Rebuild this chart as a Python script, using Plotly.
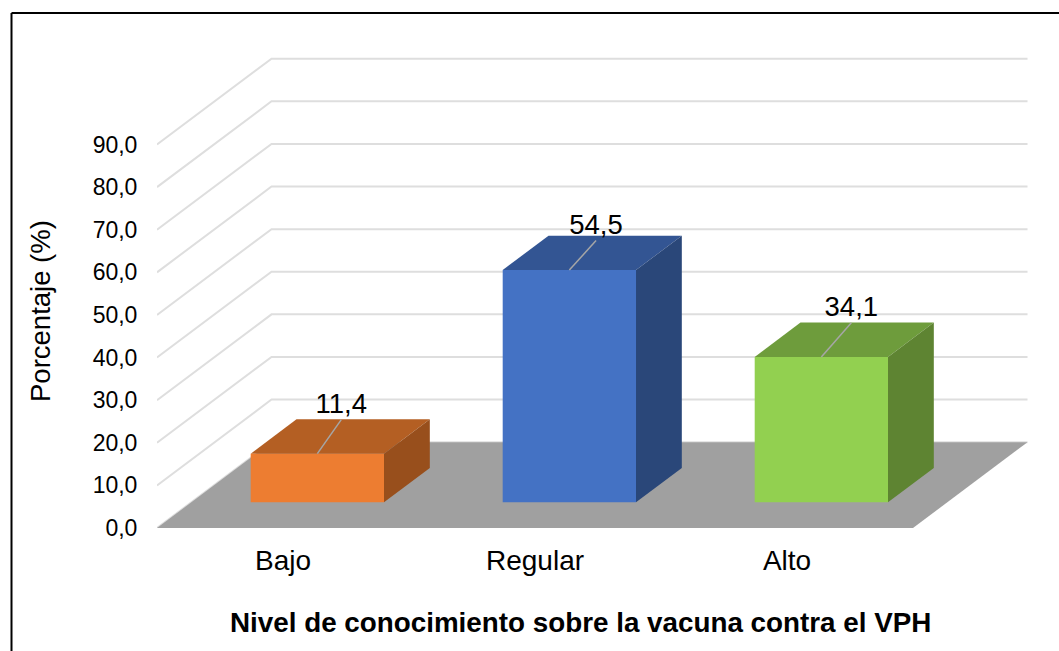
import plotly.graph_objects as go

# ---- data ----
categories = ["Bajo", "Regular", "Alto"]
values = [11.4, 54.5, 34.1]
value_labels = ["11,4", "54,5", "34,1"]
tick_values = [0, 10, 20, 30, 40, 50, 60, 70, 80, 90]
tick_labels = ["0,0", "10,0", "20,0", "30,0", "40,0", "50,0", "60,0", "70,0", "80,0", "90,0"]
x_title = "Nivel de conocimiento sobre la vacuna contra el VPH"
y_title = "Porcentaje (%)"

# ---- style ----
W, H = 1059, 651
ML, MR, MT, MB = 157, 19, 38.4, 123.3
X_RANGE = (W - ML - MR) / 252
Y_RANGE = (H - MT - MB) / 4.255
DEPTH_X, DEPTH_V = 0.4544, 20.14       # oblique projection of the floor's depth
BAR_W = 0.529
BAR_D0, BAR_D1 = 0.30, 0.70
lead_x = [0.095, 0.106, 0.119]
lead_v = [8.0, 6.9, 8.0]
FONT = "Liberation Sans"
front_colors = ["#ED7D31", "#4472C4", "#92D050"]
top_colors = ["#B45F23", "#335593", "#6E9C3C"]
side_colors = ["#984F1C", "#2A4779", "#5E8432"]
GRID = "#DEDEDE"
FLOOR = "#A0A0A0"
plot_w, plot_h = W - ML - MR, H - MT - MB


def proj(x, d, v):
    return x + DEPTH_X * d, v + DEPTH_V * d


def poly(points, color):
    xs, ys = zip(*[proj(*p) for p in points])
    return go.Scatter(x=list(xs) + [xs[0]], y=list(ys) + [ys[0]], mode="none", fill="toself",
                      fillcolor=color, hoverinfo="skip", showlegend=False)


def page_x(px):
    return (px - ML) / plot_w


def page_y(py):
    return (H - MB - py) / plot_h


fig = go.Figure()

# back wall and side gridlines
for t in tick_values:
    xs, ys = zip(proj(0, 0, t), proj(0, 1, t), proj(len(categories), 1, t))
    fig.add_trace(go.Scatter(x=xs, y=ys, mode="lines", line=dict(color=GRID, width=2),
                             hoverinfo="skip", showlegend=False))

# floor
n = len(categories)
fig.add_trace(poly([(0, 0, 0), (n, 0, 0), (n, 1, 0), (0, 1, 0)], FLOOR))

# bars
for i, v in enumerate(values):
    x0, x1 = i + 0.5 - BAR_W / 2, i + 0.5 + BAR_W / 2
    fig.add_trace(poly([(x0, BAR_D0, v), (x1, BAR_D0, v), (x1, BAR_D1, v), (x0, BAR_D1, v)], top_colors[i]))
    fig.add_trace(poly([(x1, BAR_D0, 0), (x1, BAR_D1, 0), (x1, BAR_D1, v), (x1, BAR_D0, v)], side_colors[i]))
    fig.add_trace(poly([(x0, BAR_D0, 0), (x1, BAR_D0, 0), (x1, BAR_D0, v), (x0, BAR_D0, v)], front_colors[i]))
    # leader line and value label
    fx, fy = proj(i + 0.5, BAR_D0, v)
    fig.add_trace(go.Scatter(x=[fx, fx + lead_x[i]], y=[fy, fy + lead_v[i]], mode="lines",
                             line=dict(color="#A6A6A6", width=1.5), hoverinfo="skip", showlegend=False))
    fig.add_trace(go.Scatter(x=[fx + lead_x[i]], y=[fy + lead_v[i]], mode="text", text=[value_labels[i]],
                             textposition="top center", textfont=dict(family=FONT, size=27.5, color="black"),
                             hoverinfo="skip", showlegend=False, cliponaxis=False))

# frame (top and left only: the reference is cropped on the other sides)
fig.add_shape(type="line", xref="paper", yref="paper", x0=page_x(11.5), x1=page_x(W), y0=page_y(13.5), y1=page_y(13.5),
              line=dict(color="black", width=2))
fig.add_shape(type="line", xref="paper", yref="paper", x0=page_x(11.5), x1=page_x(11.5), y0=page_y(13.5), y1=page_y(H),
              line=dict(color="black", width=2))

# axis titles, centred where the reference has them
fig.add_annotation(xref="paper", yref="paper", x=page_x(580), y=page_y(622), xanchor="center", yanchor="middle",
                   text="<b>%s</b>" % x_title, showarrow=False, font=dict(family=FONT, size=27.8, color="black"))
fig.add_annotation(xref="paper", yref="paper", x=page_x(40.5), y=page_y(311.5), xanchor="center", yanchor="middle",
                   text=y_title, textangle=-90, showarrow=False, font=dict(family=FONT, size=27.5, color="black"))

fig.update_layout(
    width=W, height=H, autosize=False,
    margin=dict(l=ML, r=MR, t=MT, b=MB, pad=0),
    paper_bgcolor="white", plot_bgcolor="rgba(0,0,0,0)",
    showlegend=False,
    font=dict(family=FONT, color="black"),
    xaxis=dict(range=[0, X_RANGE], tickmode="array", tickvals=[i + 0.5 for i in range(n)],
               ticktext=categories, showgrid=False, zeroline=False, showline=False,
               ticks="outside", ticklen=7, tickcolor="rgba(0,0,0,0)",
               tickfont=dict(family=FONT, size=28, color="black"), automargin=False),
    yaxis=dict(range=[0, Y_RANGE], tickmode="array", tickvals=tick_values, ticktext=tick_labels,
               showgrid=False, zeroline=False, showline=False,
               ticks="outside", ticklen=14, tickcolor="rgba(0,0,0,0)",
               tickfont=dict(family=FONT, size=23, color="black"), automargin=False),
)

fig.write_html("out.html", config={"displayModeBar": False},
               post_script="document.body.style.margin='0';document.body.style.overflow='hidden';")
